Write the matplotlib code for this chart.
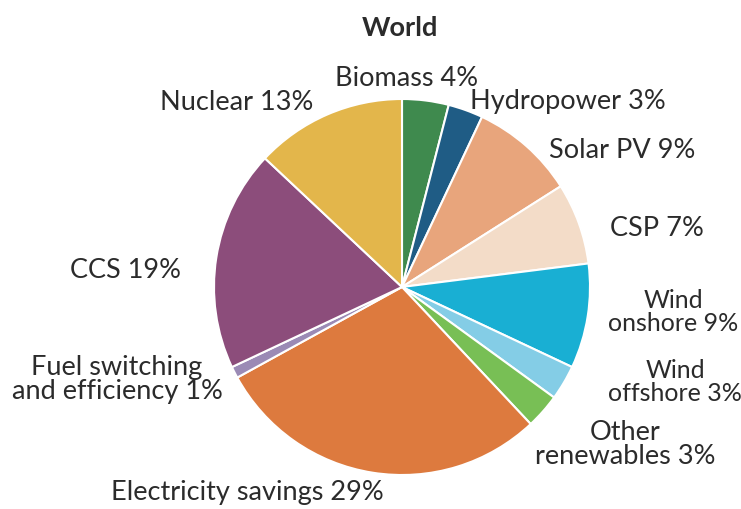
import matplotlib
matplotlib.use("Agg")
from matplotlib import pyplot as plt

# Shares (clockwise from 12 o'clock)
labels = ["Biomass 4%", "Hydropower 3%", "Solar PV 9%", "CSP 7%",
          "Wind\nonshore 9%", "Wind\noffshore 3%", "Other\nrenewables 3%",
          "Electricity savings 29%", "Fuel switching\nand efficiency 1%",
          "CCS 19%", "Nuclear 13%"]
shares = [4, 3, 9, 7, 9, 3, 3, 29, 1, 19, 13]
colors = ["#3f8a4e", "#1f5c85", "#e8a57c", "#f3dcc8", "#19afd3", "#84cde6",
          "#78bf55", "#dd7a3e", "#9b8ab5", "#8c4d7b", "#e3b64b"]

# label centres in pixel coords (x from left, y from top)
label_pos = [(407, 78), (568, 102), (622, 150), (657, 228), (673, 312),
             (675, 382), (625, 445), (247, 493), (117, 380), (125, 270),
             (237, 102)]
# the two wind labels are set a touch smaller so they fit the right edge
label_size = [19.5, 19.5, 19.5, 19.5, 18, 18, 19.5, 19.5, 19.5, 19.5, 19.5]

W, H = 741, 510
fig = plt.figure(figsize=(W / 100, H / 100), dpi=100)
ax = fig.add_axes([0, 0, 1, 1])

cx, cy, r = 402, H - 288, 188
ax.pie(shares, colors=colors, startangle=90, counterclock=False,
       center=(cx, cy), radius=r, frame=True,
       wedgeprops=dict(edgecolor="white", linewidth=1.5))
ax.set_xlim(0, W)
ax.set_ylim(0, H)
ax.set_aspect("equal")
ax.axis("off")

font = "Lato"
for lab, (x, y), fs in zip(labels, label_pos, label_size):
    ax.text(x, H - y, lab, ha="center", va="center", fontsize=fs,
            family=font, color="#2b2b2b", linespacing=0.95)

ax.text(400, H - 28, "World", ha="center", va="center", fontsize=19.5,
        family=font, fontweight="bold", color="#2b2b2b")

fig.savefig("out.png", dpi=100)
